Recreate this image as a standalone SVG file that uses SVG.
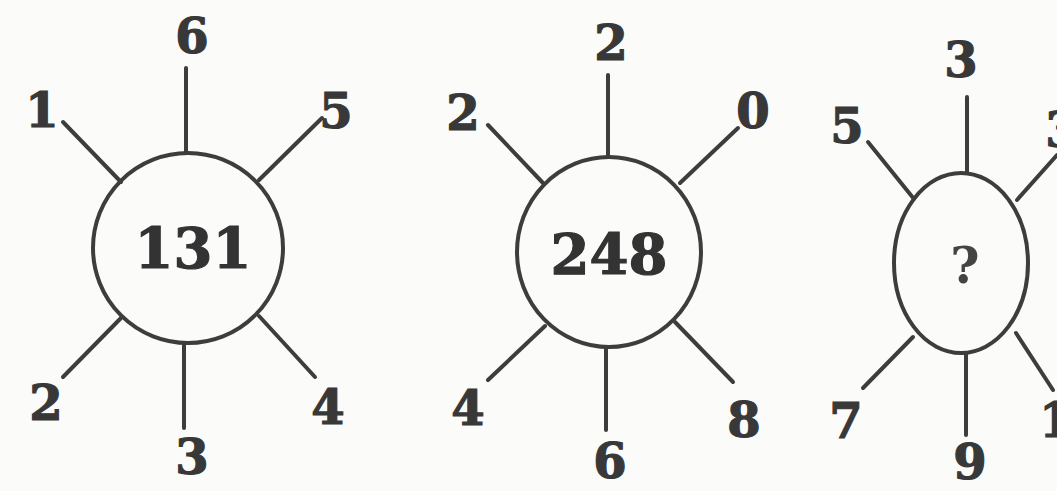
<svg xmlns="http://www.w3.org/2000/svg" width="1057" height="491" viewBox="0 0 1057 491">
<style>
.bg{fill:#fbfbf9}
.ring{fill:none;stroke:#3d3d3d;stroke-width:4}
.spoke{stroke:#3d3d3d;stroke-width:4;stroke-linecap:round}
.lbl{font-family:"DejaVu Serif","Liberation Serif",serif;font-weight:bold;font-size:48px;fill:#383838;stroke:#383838;stroke-width:1.2;text-anchor:middle}
.mid{font-family:"DejaVu Serif","Liberation Serif",serif;font-weight:bold;font-size:56px;fill:#333;stroke:#333;stroke-width:1.2;text-anchor:middle}
.q{font-family:"DejaVu Serif","Liberation Serif",serif;font-weight:bold;font-size:50px;fill:#444;text-anchor:middle}
</style>
<rect class="bg" x="0" y="0" width="1057" height="491"/>
<g id="connectors">
<line class="spoke" x1="186" y1="68" x2="186" y2="152"/>
<line class="spoke" x1="63" y1="122" x2="121" y2="182"/>
<line class="spoke" x1="322" y1="118" x2="259" y2="180"/>
<line class="spoke" x1="121" y1="318" x2="63" y2="377"/>
<line class="spoke" x1="184" y1="344" x2="184" y2="428"/>
<line class="spoke" x1="259" y1="316" x2="315" y2="377"/>

<line class="spoke" x1="608" y1="75" x2="608" y2="157"/>
<line class="spoke" x1="488" y1="125" x2="543" y2="183"/>
<line class="spoke" x1="738" y1="128" x2="680" y2="183"/>
<line class="spoke" x1="545" y1="326" x2="488" y2="380"/>
<line class="spoke" x1="606" y1="347" x2="606" y2="430"/>
<line class="spoke" x1="675" y1="322" x2="733" y2="382"/>

<line class="spoke" x1="967" y1="97" x2="967" y2="173"/>
<line class="spoke" x1="868" y1="142" x2="914" y2="199"/>
<line class="spoke" x1="1017" y1="200" x2="1057" y2="155"/>
<line class="spoke" x1="913" y1="337" x2="863" y2="388"/>
<line class="spoke" x1="966" y1="353" x2="966" y2="435"/>
<line class="spoke" x1="1016" y1="333" x2="1053" y2="390"/>
</g>
<g id="node-131">
<circle class="ring" cx="188" cy="248" r="95"/>
<text class="mid" x="193" y="268">131</text>
<text class="lbl" x="192" y="53">6</text>
<text class="lbl" x="42" y="127">1</text>
<text class="lbl" x="336" y="128">5</text>
<text class="lbl" x="46" y="420">2</text>
<text class="lbl" x="192" y="474">3</text>
<text class="lbl" x="328" y="424">4</text>
</g>
<g id="node-248">
<ellipse class="ring" cx="609" cy="252" rx="92" ry="95"/>
<text class="mid" x="609" y="274">248</text>
<text class="lbl" x="611" y="60">2</text>
<text class="lbl" x="463" y="130">2</text>
<text class="lbl" x="753" y="128">0</text>
<text class="lbl" x="468" y="425">4</text>
<text class="lbl" x="610" y="478">6</text>
<text class="lbl" x="744" y="437">8</text>
</g>
<g id="node-q">
<ellipse class="ring" cx="961" cy="263" rx="67" ry="90"/>
<text class="q" x="965" y="283">?</text>
<text class="lbl" x="961" y="77">3</text>
<text class="lbl" x="847" y="143">5</text>
<text class="lbl" x="1062" y="147">3</text>
<text class="lbl" x="846" y="438">7</text>
<text class="lbl" x="970" y="479">9</text>
<text class="lbl" x="1056" y="437">1</text>
</g>
</svg>
